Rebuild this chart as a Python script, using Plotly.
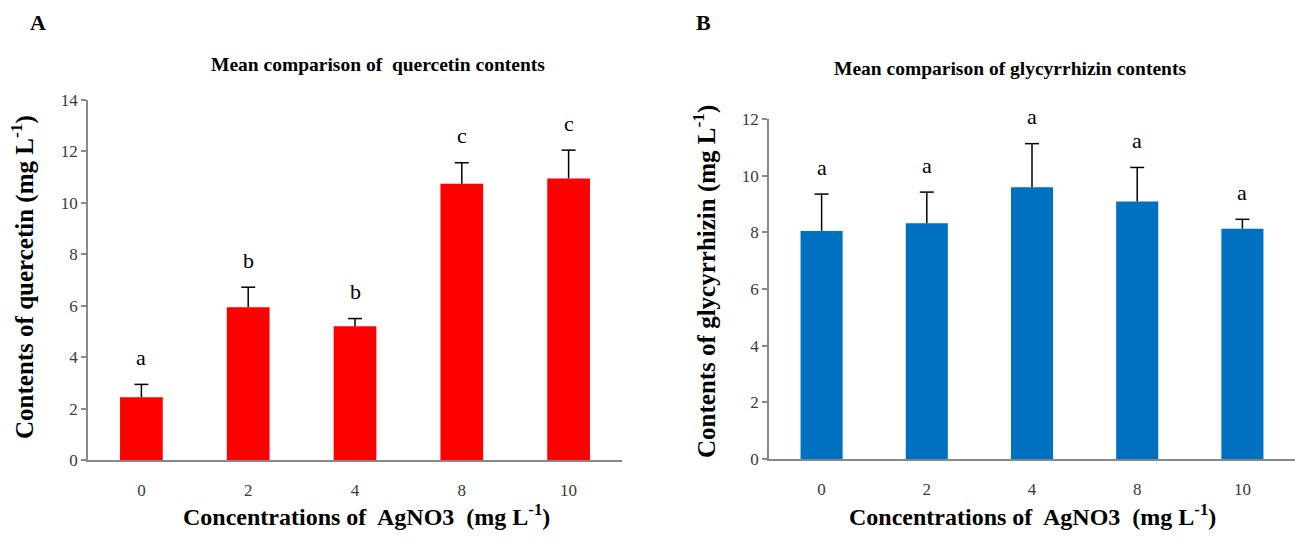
import plotly.graph_objects as go

# ---- data ----
categories = ["0", "2", "4", "8", "10"]
quercetin_mean = [2.44, 5.94, 5.20, 10.74, 10.95]
quercetin_err = [0.50, 0.78, 0.30, 0.82, 1.10]
quercetin_letters = ["a", "b", "b", "c", "c"]

glycyrrhizin_mean = [8.05, 8.32, 9.59, 9.09, 8.13]
glycyrrhizin_err = [1.30, 1.10, 1.54, 1.20, 0.33]
glycyrrhizin_letters = ["a", "a", "a", "a", "a"]

W, H = 1295, 545
SERIF = "Liberation Serif"


def px(x):
    return x / W


def py(y):
    return 1 - y / H


fig = go.Figure()


def add_panel(means, errs, color, xa, ya):
    fig.add_trace(go.Bar(
        x=categories, y=means, marker=dict(color=color, line=dict(width=0)),
        xaxis=xa, yaxis=ya, showlegend=False, hoverinfo="skip"))
    tops = [m + e for m, e in zip(means, errs)]
    # upper error bars: stem from bar top to mean+err, with a cap at the top only
    fig.add_trace(go.Scatter(
        x=categories, y=tops, mode="markers",
        marker=dict(symbol="line-ew", size=10, line=dict(width=1.5, color="black"), color="black"),
        error_y=dict(type="data", symmetric=False, array=[0] * len(errs), arrayminus=errs,
                     color="black", thickness=1.5, width=0),
        xaxis=xa, yaxis=ya, showlegend=False, hoverinfo="skip", cliponaxis=False))


add_panel(quercetin_mean, quercetin_err, "#FF0000", "x", "y")
add_panel(glycyrrhizin_mean, glycyrrhizin_err, "#0070C0", "x2", "y2")

axis_line = dict(showline=True, linecolor="#888888", linewidth=1.5, showgrid=False,
                 zeroline=False, automargin=False, fixedrange=True,
                 tickfont=dict(family=SERIF, size=17, color="#3a3a3a"))
xcat = dict(type="category", range=[-0.5, len(categories) - 0.5], ticks="",
            ticklabelstandoff=14)

fig.update_layout(
    width=W, height=H, margin=dict(l=0, r=0, t=0, b=0, autoexpand=False),
    paper_bgcolor="white", plot_bgcolor="white", bargap=0.6,
    xaxis=dict(domain=[px(88), px(622)], anchor="y", **xcat, **axis_line),
    yaxis=dict(domain=[py(460), py(100)], anchor="x", range=[0, 14], dtick=2,
               ticks="outside", ticklen=5, tickcolor="#888888", tickwidth=1.5, **axis_line),
    xaxis2=dict(domain=[px(769), 1.0], anchor="y2", **xcat, **axis_line),
    yaxis2=dict(domain=[py(459), py(119)], anchor="x2", range=[0, 12], dtick=2,
                ticks="outside", ticklen=5, tickcolor="#888888", tickwidth=1.5, **axis_line),
)

ann = []
# significance letters (x given as category index), placed above the error bar top
for xr, yr, means, errs, letters in (("x", "y", quercetin_mean, quercetin_err, quercetin_letters),
                                     ("x2", "y2", glycyrrhizin_mean, glycyrrhizin_err,
                                      glycyrrhizin_letters)):
    for i, (m, e, l) in enumerate(zip(means, errs, letters)):
        ann.append(dict(x=i, y=m + e, xref=xr, yref=yr, yshift=27, text=l, showarrow=False,
                        xanchor="center", yanchor="middle",
                        font=dict(family=SERIF, size=22, color="black")))


def label(x, y, text, size, angle=0):
    ann.append(dict(x=px(x), y=py(y), xref="paper", yref="paper", text=text, showarrow=False,
                    xanchor="center", yanchor="middle", textangle=angle,
                    font=dict(family=SERIF, size=size, color="black")))


# panel letters
label(38, 22, "<b>A</b>", 22)
label(703, 22, "<b>B</b>", 22)
# chart titles
label(378, 65, "<b>Mean comparison of  quercetin contents</b>", 19.5)
label(1010, 69, "<b>Mean comparison of glycyrrhizin contents</b>", 19.5)
# y-axis titles
label(22, 277, "<b>Contents of quercetin (mg L<sup>-1</sup>)</b>", 25, -90)
label(704, 282, "<b>Contents of glycyrrhizin (mg L<sup>-1</sup>)</b>", 25, -90)
# x-axis titles
label(366, 515, "<b>Concentrations of  AgNO3  (mg L<sup>-1</sup>)</b>", 24)
label(1032, 515, "<b>Concentrations of  AgNO3  (mg L<sup>-1</sup>)</b>", 24)

fig.update_layout(annotations=ann)
fig.write_html("out.html", config={"displayModeBar": False},
               post_script="document.body.style.margin='0';")
